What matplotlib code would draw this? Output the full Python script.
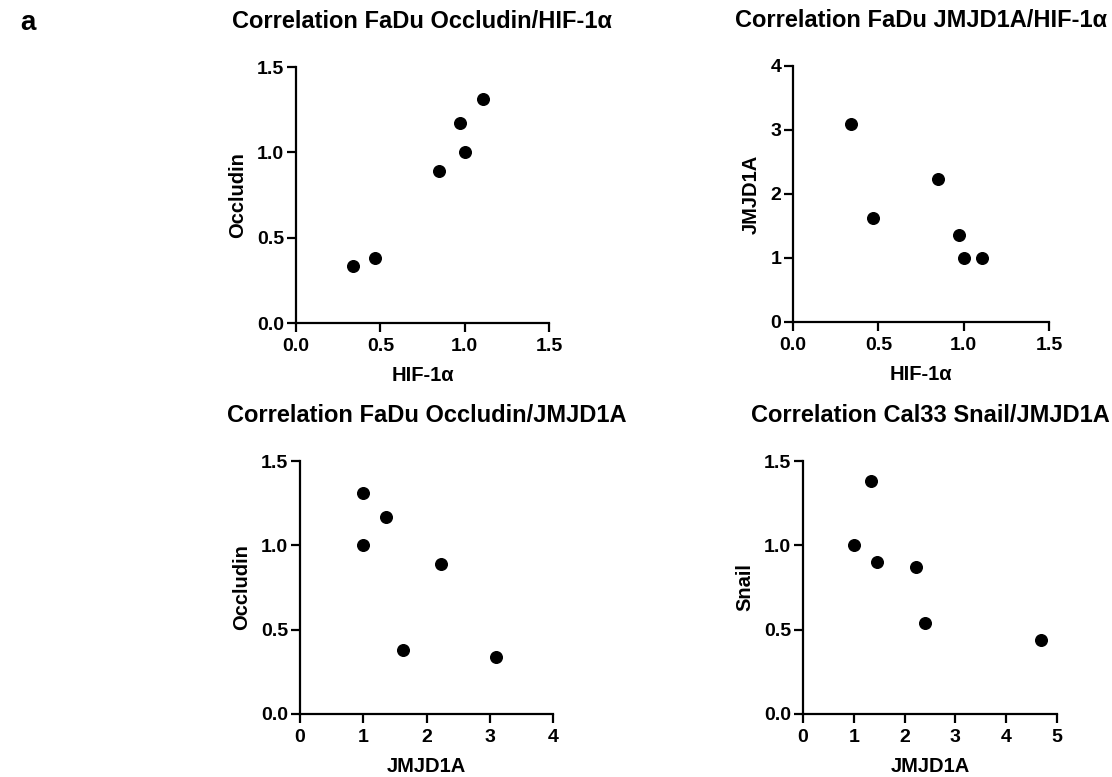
import matplotlib
matplotlib.use("Agg")
import matplotlib.pyplot as plt

plt.rcParams['font.family'] = ['Liberation Sans', 'DejaVu Sans']
plt.rcParams['font.weight'] = 'bold'

# values
hif = [0.34, 0.47, 0.85, 0.97, 1.00, 1.11]
occludin = [0.335, 0.38, 0.89, 1.17, 1.00, 1.31]
jmjd1a = [3.10, 1.63, 2.23, 1.36, 1.00, 1.00]

cal33_jmjd1a = [1.01, 1.34, 1.46, 2.23, 2.40, 4.69]
cal33_snail = [1.00, 1.38, 0.90, 0.87, 0.54, 0.44]

panels = [
    # x, y, title, xlabel, ylabel, xlim, xticks, xfmt, ylim, yticks, yfmt
    (hif, occludin, 'Correlation FaDu Occludin/HIF-1α', 'HIF-1α', 'Occludin',
     1.5, [0, 0.5, 1.0, 1.5], '%.1f', 1.5, [0, 0.5, 1.0, 1.5], '%.1f'),
    (hif, jmjd1a, 'Correlation FaDu JMJD1A/HIF-1α', 'HIF-1α', 'JMJD1A',
     1.5, [0, 0.5, 1.0, 1.5], '%.1f', 4, [0, 1, 2, 3, 4], '%d'),
    (jmjd1a, occludin, 'Correlation FaDu Occludin/JMJD1A', 'JMJD1A', 'Occludin',
     4, [0, 1, 2, 3, 4], '%d', 1.5, [0, 0.5, 1.0, 1.5], '%.1f'),
    (cal33_jmjd1a, cal33_snail, 'Correlation Cal33 Snail/JMJD1A', 'JMJD1A', 'Snail',
     5, [0, 1, 2, 3, 4, 5], '%d', 1.5, [0, 0.5, 1.0, 1.5], '%.1f'),
]

# axes boxes in pixels: left, top, right, bottom
boxes = [(296, 67, 549, 323), (793, 66, 1049, 322),
         (300, 461, 553, 714), (803, 461, 1057, 714)]

W, H = 1112, 777
fig = plt.figure(figsize=(W / 100, H / 100), dpi=100)

for (x, y, title, xl, yl, xmax, xt, xf, ymax, yt, yf), (l, t, r, b) in zip(panels, boxes):
    ax = fig.add_axes([l / W, 1 - b / H, (r - l) / W, (b - t) / H])
    ax.scatter(x, y, s=70, color='black', zorder=3, clip_on=False)
    ax.set_xlim(0, xmax)
    ax.set_ylim(0, ymax)
    ax.set_xticks(xt)
    ax.set_yticks(yt)
    ax.set_xticklabels([xf % v for v in xt])
    ax.set_yticklabels([yf % v for v in yt])
    for s in ['top', 'right']:
        ax.spines[s].set_visible(False)
    for s in ['left', 'bottom']:
        ax.spines[s].set_linewidth(1.6)
    ax.tick_params(direction='out', length=6.5, width=1.6, labelsize=14)
    ax.tick_params(axis='x', pad=4)
    ax.tick_params(axis='y', pad=2)
    ax.set_xlabel(xl, fontsize=14.5, fontweight='bold', labelpad=8)
    ax.set_ylabel(yl, fontsize=14.5, fontweight='bold', labelpad=7)
    ax.set_title(title, fontsize=17, fontweight='bold', pad=28)

# panel letter
fig.text(20 / W, 1 - 23 / H, 'a', fontsize=20, fontweight='bold', va='center')

fig.savefig('out.png', dpi=100)
